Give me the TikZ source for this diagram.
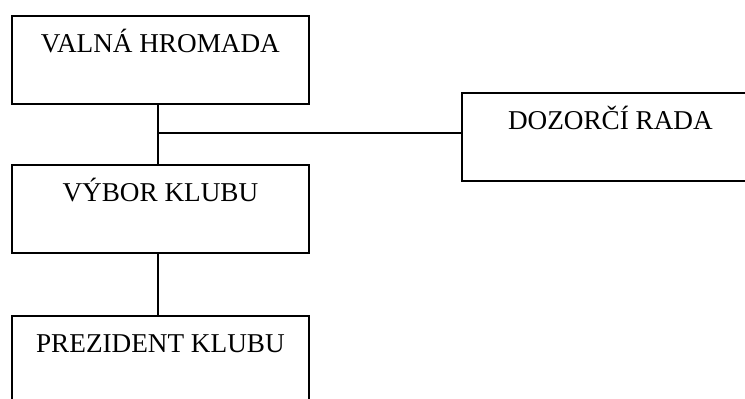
\documentclass[tikz,border=0pt]{standalone}
\usepackage{fontspec}
\setmainfont{Liberation Serif}
\begin{document}
\begin{tikzpicture}[x=1pt,y=1pt,
  box/.style={draw, line width=1.8pt, rectangle, minimum width=297pt,
    inner xsep=0pt, inner ysep=0pt, text height=37pt, text depth=51pt,
    anchor=north west, font=\fontsize{27.2}{30}\selectfont},
  conn/.style={line width=1.8pt}]
\useasboundingbox (0,0) rectangle (745,-399);
\fill[white] (0,0) rectangle (745,-399);
\node[box] (vh) at (11,-15) {VALNÁ HROMADA};
\node[box] (vb) at (11,-164) {VÝBOR KLUBU};
\node[box] (pk) at (11,-315) {PREZIDENT KLUBU};
\node[box] (dr) at (461,-92) {DOZORČÍ RADA};
\coordinate (j) at ([xshift=-2.5pt]vh.south |- 0,-133);
\draw[conn] ([xshift=-2.5pt]vh.south) -- ([xshift=-2.5pt]vb.north);
\draw[conn] ([xshift=-2.5pt]vb.south) -- ([xshift=-2.5pt]pk.north);
\draw[conn] (j) -- (j -| dr.west);
\end{tikzpicture}
\end{document}
